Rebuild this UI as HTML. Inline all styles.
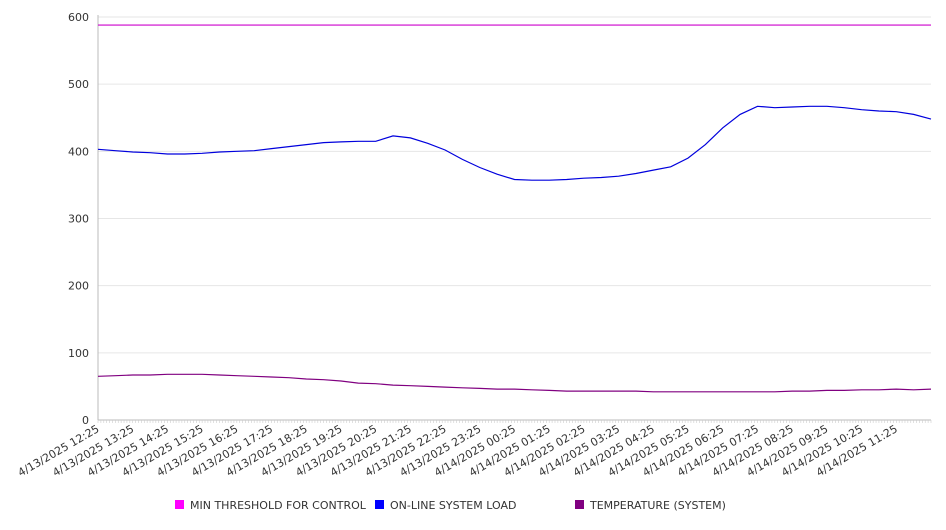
<!DOCTYPE html>
<html><head><meta charset="utf-8"><style>
body{margin:0;background:#fff;font-family:"DejaVu Sans","Liberation Sans",sans-serif}
</style></head><body>
<svg id="c" width="946" height="526" xmlns="http://www.w3.org/2000/svg"></svg>
<script>
const timeLabels=["4/13/2025 12:25","4/13/2025 13:25","4/13/2025 14:25","4/13/2025 15:25","4/13/2025 16:25","4/13/2025 17:25","4/13/2025 18:25","4/13/2025 19:25","4/13/2025 20:25","4/13/2025 21:25","4/13/2025 22:25","4/13/2025 23:25","4/14/2025 00:25","4/14/2025 01:25","4/14/2025 02:25","4/14/2025 03:25","4/14/2025 04:25","4/14/2025 05:25","4/14/2025 06:25","4/14/2025 07:25","4/14/2025 08:25","4/14/2025 09:25","4/14/2025 10:25","4/14/2025 11:25"];
const yTicks=[0,100,200,300,400,500,600];
const loadValues=[403,401,399,398,396,396,397,399,400,401,404,407,410,413,414,415,415,423,420,412,402,388,376,366,358,357,357,358,360,361,363,367,372,377,390,410,435,455,467,465,466,467,467,465,462,460,459,455,448];
const tempValues=[65,66,67,67,68,68,68,67,66,65,64,63,61,60,58,55,54,52,51,50,49,48,47,46,46,45,44,43,43,43,43,43,42,42,42,42,42,42,42,42,43,43,44,44,45,45,46,45,46];
const thresholdValue=588;
const svg=document.getElementById('c');
const NS='http://www.w3.org/2000/svg';
const X0=98,X1=931,Y0=420,Y1=17;
const nHalf=loadValues.length-1;
const xs=i=>X0+(X1-X0)*i/nHalf;
const ys=v=>Y0-(Y0-Y1)*v/600;
function el(t,a,p){const e=document.createElementNS(NS,t);for(const k in a)e.setAttribute(k,a[k]);(p||svg).appendChild(e);return e;}
yTicks.forEach(v=>{
  if(v>0){const g=el('line',{x1:X0,x2:X1,y1:ys(v),y2:ys(v),stroke:'#e6e6e6'});
  
  }
  const t=el('text',{x:89,y:ys(v)+4,'text-anchor':'end','font-size':11,fill:'#333'});
  t.textContent=v;
  
  
});
const ax=el('line',{x1:X0,x2:X0,y1:Y1-2,y2:Y0,stroke:'#bbb'});


const bx=el('line',{x1:X0,x2:X1,y1:Y0,y2:Y0,stroke:'#bbb'});


const nMin=24*12;
for(let i=0;i<=nMin;i++){const x=X0+(X1-X0)*i/nMin;const tk=el('line',{x1:x,x2:x,y1:Y0,y2:Y0+3,stroke:'#ccc','stroke-width':0.6});

}
timeLabels.forEach((l,i)=>{const x=X0+(X1-X0)*i/24+2;const y=Y0+11;
  const t=el('text',{x:x,y:y,'text-anchor':'end','font-size':11,fill:'#333',transform:`rotate(-30 ${x} ${y})`});
  t.textContent=l;
  
  
});
const th=el('line',{x1:X0,x2:X1,y1:ys(thresholdValue),y2:ys(thresholdValue),stroke:'#cc00cc','stroke-width':1.2});


function path(vals,color,name){const d=vals.map((v,i)=>(i?'L':'M')+xs(i).toFixed(1)+' '+ys(v).toFixed(1)).join(' ');
  const p=el('path',{d:d,fill:'none',stroke:color,'stroke-width':1.2});
  
  }
path(loadValues,'#0000dd','online-system-load-line');
path(tempValues,'#800080','temperature-line');
[["MIN THRESHOLD FOR CONTROL","#ff00ff",175],["ON-LINE SYSTEM LOAD","#0000ff",375],["TEMPERATURE (SYSTEM)","#800080",575]].forEach(([n,c,x])=>{
  const g=el('g',{});
  
  
  el('rect',{x:x,y:500,width:9,height:9,fill:c},g);
  const t=el('text',{x:x+15,y:509,'font-size':11,fill:'#333'},g);t.textContent=n;
});
</script>
</body></html>
